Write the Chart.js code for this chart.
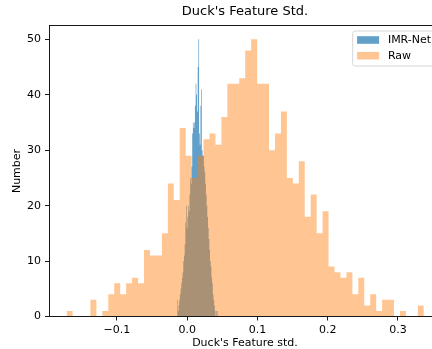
<!DOCTYPE html>
<html><head><meta charset="utf-8">
<script src="https://cdn.jsdelivr.net/npm/chart.js@4.4.1/dist/chart.umd.min.js"></script>
<style>
html,body{margin:0;padding:0;overflow:hidden;background:#fff;width:432px;height:349px}
canvas{display:block}
</style></head>
<body>
<canvas id="c" width="441" height="349" style="width:441px;height:349px"></canvas>
<script>
// ---- data ----
const seriesNames = ['IMR-Net', 'Raw'];
// IMR-Net: 60 equal-width bins between these edges
const imrRange = [-0.0143, 0.0442];
const imrCounts = [3,1,2,3,4,5,6,7,8,10, 11,13,17,20,16,18,20,19,22,25,
                   24,27,33,35,34,35,38,42,40,37, 45,50,33,31,38,41,30,29,29,27,
                   26,24,22,20,18,16,14,12,10,9, 7,6,4,3,2,1,0,1,0,1];
// Raw: 60 equal-width bins between these edges
const rawRange = [-0.1717, 0.3369];
const rawCounts = [1,0,0,0,3,0,1,4,6,4, 6,7,6,12,11,11,15,24,21,34,
                   29,25,29,32,33,31,36,42,42,43, 48,50,42,42,30,33,37,25,24,28,
                   18,22,15,19,9,8,7,8,4,7, 2,4,1,3,3,0,1,0,0,2];
const xTickValues = [-0.1, 0.0, 0.1, 0.2, 0.3];
const yTickValues = [0, 10, 20, 30, 40, 50];
const xLimits = [-0.1968, 0.3614];
const yLimits = [0, 52.5];

const FONT = '"DejaVu Sans", "Liberation Sans", sans-serif';

function histPoints(range, counts) {
  const n = counts.length, w = (range[1] - range[0]) / n;
  const pts = counts.map((c, i) => ({x: range[0] + i * w, y: c}));
  pts.push({x: range[1], y: 0});
  return pts;
}

const framePlugin = {
  id: 'mplFrame',
  afterDatasetsDraw(chart) {
    const {ctx, chartArea: a} = chart;
    ctx.save();
    ctx.strokeStyle = '#000';
    ctx.lineWidth = 0.9;
    const l = Math.floor(a.left) + 0.5, r = Math.floor(a.right) - 0.5;
    const t = Math.floor(a.top) + 0.5, b = Math.floor(a.bottom) + 0.5;
    ctx.strokeRect(l, t, r - l, b - t);
    ctx.restore();
  }
};

const legendPlugin = {
  id: 'mplLegend',
  afterDatasetsDraw(chart) {
    const {ctx, chartArea: a} = chart;
    const fs = 11;
    ctx.save();
    ctx.font = fs + 'px ' + FONT;
    const items = chart.data.datasets.map(d => ({text: d.label, color: d.backgroundColor}));
    const textW = Math.max(...items.map(i => ctx.measureText(i.text).width));
    const pad = 4.4, hl = 22, htp = 8.8, rowH = 15.7;
    const w = pad * 2 + hl + htp + textW;
    const h = 35;
    const right = a.right - 5.5, top = a.top + 5.5;
    const left = right - w;
    const rad = 2.5;
    ctx.beginPath();
    ctx.moveTo(left + rad, top);
    ctx.lineTo(right - rad, top);
    ctx.arcTo(right, top, right, top + rad, rad);
    ctx.lineTo(right, top + h - rad);
    ctx.arcTo(right, top + h, right - rad, top + h, rad);
    ctx.lineTo(left + rad, top + h);
    ctx.arcTo(left, top + h, left, top + h - rad, rad);
    ctx.lineTo(left, top + rad);
    ctx.arcTo(left, top, left + rad, top, rad);
    ctx.closePath();
    ctx.fillStyle = 'rgba(255,255,255,0.8)';
    ctx.fill();
    ctx.strokeStyle = '#cccccc';
    ctx.lineWidth = 0.8;
    ctx.stroke();
    items.forEach((it, i) => {
      const cy = top + 9 + i * rowH;
      ctx.fillStyle = it.color;
      ctx.fillRect(left + pad, cy - 3.8, hl, 7.6);
      ctx.fillStyle = '#000';
      ctx.textBaseline = 'middle';
      ctx.textAlign = 'left';
      ctx.fillText(it.text, left + pad + hl + htp, cy + 0.5);
    });
    ctx.restore();
  }
};

const fmt = v => (Math.abs(v) < 1e-9 ? '0.0' : v.toFixed(1)).replace('-', '\u2212');

new Chart(document.getElementById('c'), {
  type: 'line',
  data: {
    datasets: [
      {
        label: seriesNames[0],
        data: histPoints(imrRange, imrCounts),
        stepped: 'before', fill: 'origin',
        backgroundColor: 'rgba(31,119,180,0.7)',
        borderColor: 'rgba(0,0,0,0)', borderWidth: 0,
        pointRadius: 0, pointHoverRadius: 0, order: 1
      },
      {
        label: seriesNames[1],
        data: histPoints(rawRange, rawCounts),
        stepped: 'before', fill: 'origin',
        backgroundColor: 'rgba(255,127,14,0.45)',
        borderColor: 'rgba(0,0,0,0)', borderWidth: 0,
        pointRadius: 0, pointHoverRadius: 0, order: 0
      }
    ]
  },
  options: {
    responsive: false,
    animation: false,
    devicePixelRatio: 1,
    layout: {padding: 0},
    events: [],
    plugins: {
      legend: {display: false},
      tooltip: {enabled: false},
      title: {
        display: true, text: "Duck's Feature Std.", fullSize: false,
        color: '#000', font: {family: FONT, size: 13, weight: 'normal'},
        padding: {top: 4, bottom: 5.9}
      }
    },
    scales: {
      x: {
        type: 'linear', min: xLimits[0], max: xLimits[1], bounds: 'data',
        afterFit(s) { s.height = 32.5; },
        afterBuildTicks(s) { s.ticks = xTickValues.map(v => ({value: v})); },
        ticks: {callback: v => fmt(v), color: '#000', font: {family: FONT, size: 11},
                padding: 3, maxRotation: 0, autoSkip: false},
        grid: {drawOnChartArea: false, drawTicks: true, tickLength: 4, tickColor: '#000', tickWidth: 0.9},
        border: {display: false},
        title: {display: true, text: "Duck's Feature std.", color: '#000',
                font: {family: FONT, size: 11, lineHeight: 1.1}, padding: {top: 0, bottom: 0}}
      },
      y: {
        type: 'linear', min: yLimits[0], max: yLimits[1], bounds: 'data',
        afterFit(s) { s.width = 49; },
        afterBuildTicks(s) { s.ticks = yTickValues.map(v => ({value: v})); },
        ticks: {color: '#000', font: {family: FONT, size: 11}, padding: 4, autoSkip: false},
        grid: {drawOnChartArea: false, drawTicks: true, tickLength: 4, tickColor: '#000', tickWidth: 0.9},
        border: {display: false},
        title: {display: true, text: 'Number', color: '#000',
                font: {family: FONT, size: 11}, padding: {top: 11, bottom: 0}}
      }
    }
  },
  plugins: [framePlugin, legendPlugin]
});
</script>
</body></html>
